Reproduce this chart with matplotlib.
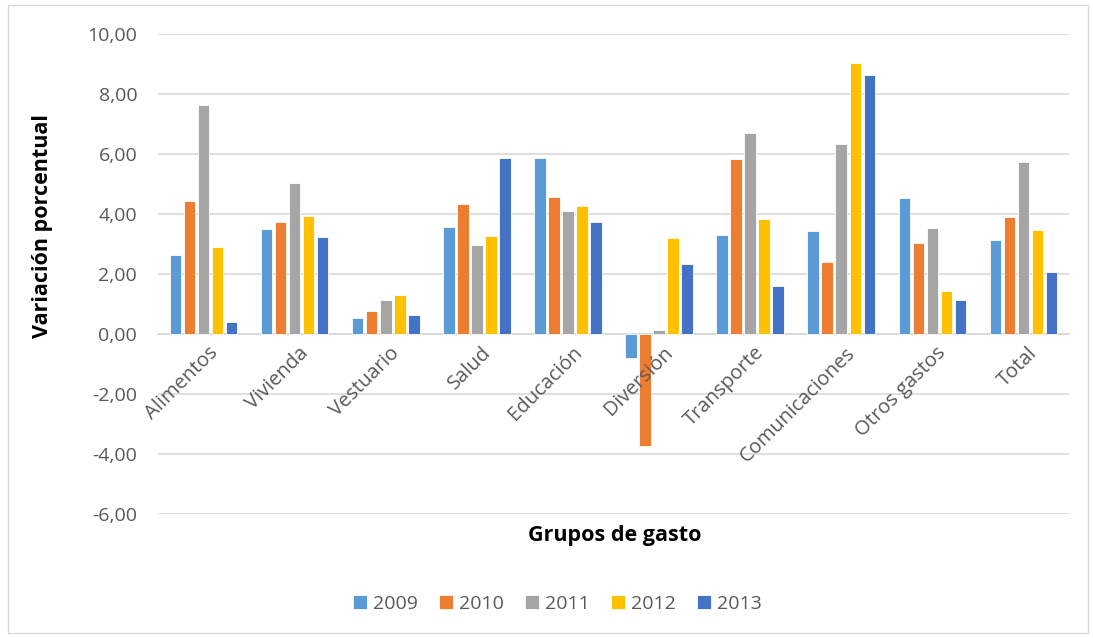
import matplotlib.pyplot as plt
import matplotlib.patches as mpatches
import matplotlib.transforms as mtransforms
from matplotlib.ticker import FuncFormatter
import numpy as np

plt.rcParams['font.family'] = ['Open Sans', 'DejaVu Sans']

categories = ['Alimentos', 'Vivienda', 'Vestuario', 'Salud', 'Educación', 'Diversión',
              'Transporte', 'Comunicaciones', 'Otros gastos', 'Total']
years = ['2009', '2010', '2011', '2012', '2013']
v2009 = [2.63, 3.50, 0.53, 3.56, 5.86, -0.79, 3.30, 3.42, 4.53, 3.12]
v2010 = [4.43, 3.73, 0.78, 4.32, 4.58, -3.75, 5.83, 2.39, 3.02, 3.90]
v2011 = [7.62, 5.02, 1.14, 2.97, 4.09, 0.12, 6.70, 6.32, 3.54, 5.74]
v2012 = [2.91, 3.93, 1.29, 3.26, 4.26, 3.19, 3.84, 9.02, 1.43, 3.47]
v2013 = [0.41, 3.23, 0.62, 5.88, 3.72, 2.34, 1.59, 8.63, 1.14, 2.07]
series = [v2009, v2010, v2011, v2012, v2013]
colors = ['#5B9BD5', '#ED7D31', '#A5A5A5', '#FFC000', '#4472C4']

fig = plt.figure(figsize=(10.93, 6.38), dpi=100)
ax = fig.add_axes([0.1446, 0.1944, 0.8334, 0.7523])

x = np.arange(len(categories))
slot = 0.154
for i, (vals, col, yr) in enumerate(zip(series, colors, years)):
    ax.bar(x + (i - 2) * slot, vals, width=slot * 0.82, color=col, label=yr,
           edgecolor='white', linewidth=0.6, zorder=3)

ax.set_xlim(-0.5, len(categories) - 0.5)
ax.set_ylim(-6, 10)
ax.set_yticks(np.arange(-6, 11, 2))
ax.yaxis.set_major_formatter(FuncFormatter(lambda v, p: f'{v:.2f}'.replace('.', ',')))
ax.grid(axis='y', color='#d9d9d9', linewidth=1.2, zorder=0)

for s in ['top', 'right', 'left']:
    ax.spines[s].set_visible(False)
ax.spines['bottom'].set_position(('data', 0))
ax.spines['bottom'].set_color('#d9d9d9')
ax.spines['bottom'].set_linewidth(1.2)

# category labels drawn as text so they sit above the bars
ax.set_xticks(x)
ax.set_xticklabels([])
ax.tick_params(axis='both', length=0, labelsize=14, labelcolor='#595959')
ax.tick_params(axis='y', pad=15)
lab_tr = mtransforms.offset_copy(ax.transData, fig=fig, x=4, y=-9, units='dots')
for xi, cat in zip(x, categories):
    ax.text(xi, 0, cat, transform=lab_tr, rotation=45, ha='right', va='top',
            rotation_mode='anchor', fontsize=14.5, color='#595959', zorder=6)

fig.text(0.039, 0.645, 'Variación porcentual', rotation=90, ha='center', va='center',
         fontsize=15.5, fontweight='bold')
fig.text(0.562, 0.161, 'Grupos de gasto', ha='center', va='center',
         fontsize=15.5, fontweight='bold')

ax.legend(loc='center', bbox_to_anchor=(0.51, 0.054), bbox_transform=fig.transFigure,
          ncol=5, frameon=False, fontsize=14, handlelength=0.72, handleheight=0.72,
          handletextpad=0.3, columnspacing=1.1, labelcolor='#595959')

fig.patches.append(mpatches.Rectangle((0.007, 0.008), 0.988, 0.984, transform=fig.transFigure,
                                      fill=False, edgecolor='#d9d9d9', linewidth=1))

fig.savefig('out.png', dpi=100)
